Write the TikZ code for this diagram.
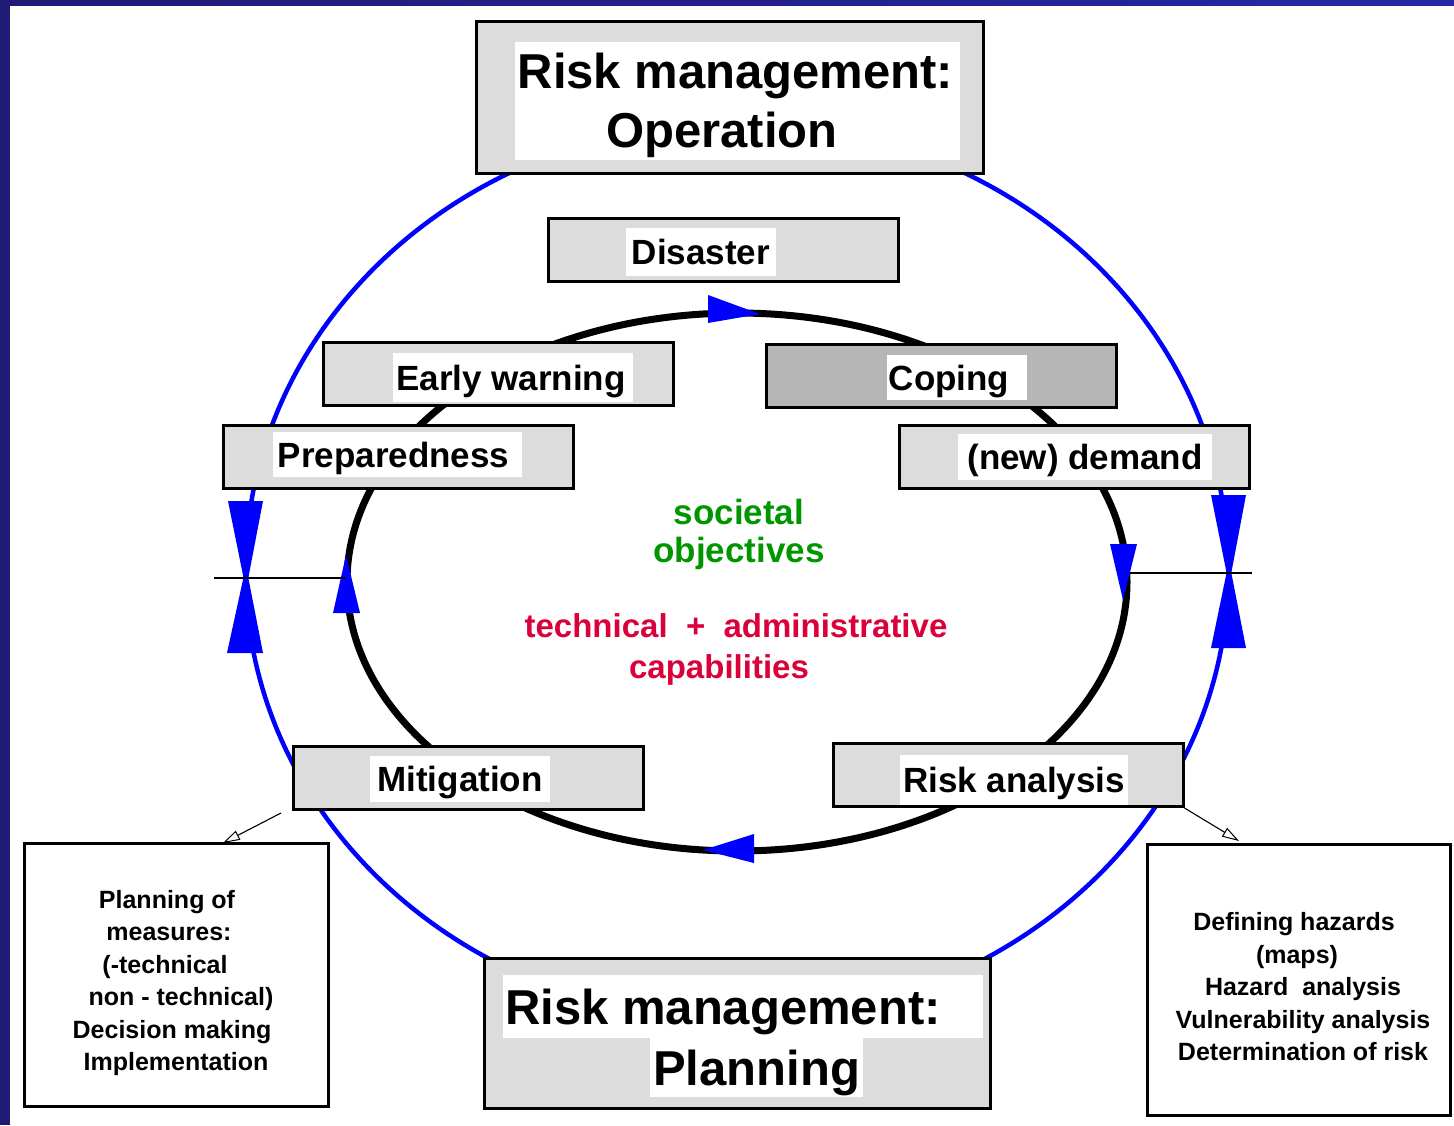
\documentclass[tikz,border=0pt]{standalone}
\usepackage{fontspec}
\setmainfont{Liberation Sans}
\usetikzlibrary{arrows.meta}
\definecolor{framenavy}{RGB}{31,27,118}
\definecolor{framenavyB}{RGB}{40,38,165}
\definecolor{boxgray}{RGB}{220,220,220}
\definecolor{boxdark}{RGB}{182,182,182}
\definecolor{objgreen}{RGB}{0,150,0}
\definecolor{capred}{RGB}{218,0,58}
\newcommand\stagefont{\fontsize{35}{42}\selectfont\bfseries}
\newcommand\titlefont{\fontsize{49}{60}\selectfont\bfseries}
\newcommand\notefont{\fontsize{25}{32.5}\selectfont\bfseries}
\newcommand\padding[1]{\rule{#1}{0pt}}
\begin{document}
\begin{tikzpicture}[x=1pt,y=-1pt,
  stage/.style={draw=black, line width=3, fill=boxgray, inner sep=0,
    minimum width=350, minimum height=63},
  plate/.style n args={2}{fill=white, inner sep=0, minimum width=#1,
    minimum height=#2, text height=30, text depth=5, font=\stagefont},
  bigplate/.style n args={2}{fill=white, inner sep=0, minimum width=#1,
    minimum height=#2, text height=42, text depth=7, font=\titlefont},
  notebox/.style={draw=black, line width=3, fill=white, inner sep=0},
  note arrow/.style={line width=1.1,
    -{Triangle[open, length=17pt, width=10pt, line width=1pt]}},
  cycle tip/.style={fill=blue}]

\useasboundingbox (0,0) rectangle (1454,1125);
\fill[white] (0,0) rectangle (1454,1125);

% slide frame
\shade[left color=framenavy, right color=framenavyB] (0,0) rectangle (1454,5);
\fill[framenavy] (0,0) rectangle (10,1125);

% outer management cycle and inner disaster cycle
\draw[blue, line width=4.5] (737,571) ellipse [x radius=491.5, y radius=449];
\draw[black, line width=7] (737,582) ellipse [x radius=390, y radius=269];

% boxes
\node[stage, minimum width=507, minimum height=152] (oper) at (730,97.5) {};
\node[stage, minimum width=506, minimum height=150] (plan) at (737.5,1033.5) {};
\node[stage] (disaster) at (723,250) {};
\node[stage] (early) at (498,374) {};
\node[stage, fill=boxdark] (coping) at (941,376) {};
\node[stage] (prep) at (398.5,456.5) {};
\node[stage] (demand) at (1074,456.5) {};
\node[stage] (mitig) at (468,778) {};
\node[stage] (riskan) at (1008,775) {};

% box labels
\node[bigplate={445}{58}] (operA) at (737.5,71) {Risk management:\padding{4pt}};
\node[bigplate={445}{60}] (operB) at (737.5,130) {Operation\padding{31pt}};
\node[bigplate={480}{63}] (planA) at (743,1006.5) {Risk management:\padding{40pt}};
\node[bigplate={213}{59}] (planB) at (756.5,1067.5) {Planning};
\node[plate={150}{48}] (disasterT) at (701,252) {Disaster};
\node[plate={240}{49}] (earlyT) at (513,377.5) {Early warning\padding{4pt}};
\node[plate={140}{45}] (copingT) at (957,377.5) {Coping\padding{16pt}};
\node[plate={249}{45}] (prepT) at (397.5,454.5) {Preparedness\padding{8pt}};
\node[plate={254}{46}] (demandT) at (1085,457) {(new) demand};
\node[plate={180}{46}] (mitigT) at (460,779) {Mitigation};
\node[plate={228}{50}] (riskanT) at (1014,780) {Risk analysis};

% centre texts
\node[text=objgreen, align=center, font=\fontsize{35}{38}\selectfont\bfseries]
  (goals) at (739,534) {societal\\objectives};
\node[text=capred, align=center, font=\fontsize{33}{41}\selectfont\bfseries]
  (capab) at (736,649) {technical\ \ +\ \ administrative\\capabilities\padding{34pt}};

% note boxes
\node[notebox, minimum width=304, minimum height=263] (leftnote) at (176.5,975) {};
\node[notebox, minimum width=303, minimum height=271] (rightnote) at (1299,980) {};
\node[align=center, font=\notefont] (leftnoteT) at (172,983)
  {Planning of\padding{10pt}\\measures:\padding{6pt}\\(-technical\padding{14pt}\\%
   \padding{18pt}non - technical)\\Decision making\\\padding{8pt}Implementation};
\node[align=center, font=\notefont] (rightnoteT) at (1303,987)
  {Defining hazards\padding{18pt}\\(maps)\padding{12pt}\\Hazard\ \ analysis\\%
   Vulnerability analysis\\Determination of risk};

% pointers to the note boxes
\coordinate (mtail) at (281,813);
\coordinate (mtip) at (223,843);
\coordinate (rtip) at (1239,841);
\draw[note arrow] (mtail) -- (mtip);
\draw[note arrow] (riskan.south east) -- (rtip);

% direction markers on the cycles
\fill[cycle tip] (708,295) -- (760,314) -- (708,323) -- cycle;
\fill[cycle tip] (754,834) -- (703,850) -- (754,863) -- cycle;
\fill[cycle tip] (333,613) -- (346,555) -- (360,613) -- cycle;
\fill[cycle tip] (1110,544) -- (1123,600) -- (1137,544) -- cycle;
\fill[cycle tip] (228,501) -- (246,590) -- (263,501) -- cycle;
\fill[cycle tip] (227,653) -- (246,566) -- (263,653) -- cycle;
\fill[cycle tip] (1211,495) -- (1229,585) -- (1246,495) -- cycle;
\fill[cycle tip] (1211,648) -- (1229,561) -- (1246,648) -- cycle;

% phase boundaries
\draw[line width=1.5] (214,578) -- (345,578);
\draw[line width=1.5] (1130,573) -- (1252,573);

\end{tikzpicture}
\end{document}
